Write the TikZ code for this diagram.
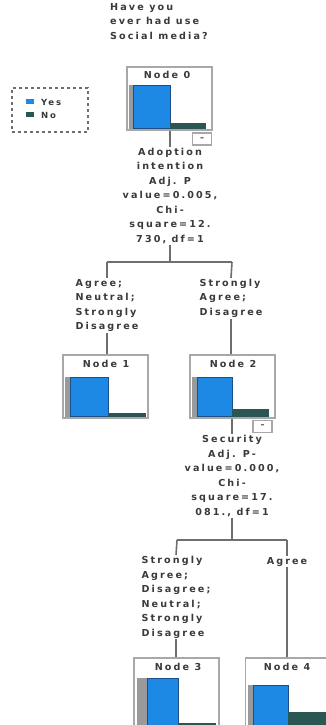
\documentclass[tikz,border=0pt]{standalone}
\usepackage{fontspec}
\setmainfont[LetterSpace=22]{DejaVu Sans}
\definecolor{boxgray}{HTML}{A8A8A8}
\definecolor{linegray}{HTML}{6E6E6E}
\definecolor{barblue}{HTML}{1E88E5}
\definecolor{barblueD}{HTML}{1A4F8A}
\definecolor{barteal}{HTML}{2A5654}
\definecolor{stripe}{HTML}{9A9A9A}
\definecolor{txt}{HTML}{3A3A3A}
\begin{document}
\begin{tikzpicture}[x=1pt,y=-1pt,
  every node/.style={inner sep=0pt, text=txt, font=\fontsize{9.6}{14.5}\selectfont\bfseries},
  nodebox/.style={draw=boxgray, line width=1.8pt, fill=white, minimum width=85pt, minimum height=63pt},
  tallbox/.style={nodebox, minimum height=70pt},
  conn/.style={draw=linegray, line width=1.6pt},
  lbl/.style={align=left, fill=white, inner sep=1pt},
  split/.style={align=center, fill=white, inner sep=1pt},
  minusbox/.style={draw=boxgray, line width=1.4pt, fill=white, minimum width=19pt, minimum height=12pt, font=\fontsize{8}{8}\selectfont\bfseries},
  bluebar/.style={fill=barblue, draw=barblueD, line width=0.8pt},
  tealbar/.style={fill=barteal},
  stripebar/.style={fill=stripe}
]
\useasboundingbox (0,0) rectangle (325,725);
\fill[white] (0,0) rectangle (325,725);

% title
\node[align=left, anchor=north west] (title) at (110,3) {Have you\\ever had use\\Social media?};

% legend
\node[draw=linegray, dashed, line width=1.4pt, minimum width=76pt, minimum height=44pt] (legend) at (50,110) {};
\fill[barblue] (26,99) rectangle (34,104);
\fill[barteal] (26,112) rectangle (34,117);
\node[anchor=west, font=\fontsize{8.5}{8}\selectfont\bfseries] (lyes) at (41,102) {Yes};
\node[anchor=west, font=\fontsize{8.5}{8}\selectfont\bfseries] (lno) at (41,115) {No};

% Node 0
\node[nodebox] (n0) at (169.5,98.5) {};
\node (n0t) at (167,75) {Node 0};
\fill[stripebar] (128.5,85) rectangle (133,129);
\fill[bluebar] (133,85) rectangle (170,128);
\fill[tealbar] (170,123) rectangle (206,128.5);
\node[minusbox] (m0) at (202,139) {--};

\node[split] (s0) at (170,196) {Adoption\\intention\\Adj. P\\value=0.005,\\Chi-\\square=12.\\730, df=1};
\draw[conn] (n0.south -| s0.north) -- (s0.north);

\coordinate (j0) at (170,262);
\coordinate (jl0) at (107,262);
\coordinate (jr0) at (232,262);
\draw[conn] (s0.south) -- (j0);
\draw[conn] (jl0) -- (jr0);

\node[lbl, anchor=north] (l1) at (107,278) {Agree;\\Neutral;\\Strongly\\Disagree};
\node[lbl, anchor=north] (l2) at (231,278) {Strongly\\Agree;\\Disagree};
\draw[conn] (jl0) -- (l1.north);
\draw[conn] (jr0) -- (l2.north);

% Node 1
\node[nodebox] (n1) at (105.5,386.5) {};
\node (n1t) at (106,364) {Node 1};
\fill[stripebar] (64.5,377) rectangle (70,417);
\fill[bluebar] (70,377) rectangle (108,416);
\fill[tealbar] (108,412.5) rectangle (146,416.5);
\draw[conn] (l1.south) -- (l1.south |- n1.north);

% Node 2
\node[nodebox] (n2) at (232.5,386.5) {};
\node (n2t) at (233,364) {Node 2};
\fill[stripebar] (191.5,377) rectangle (197,417);
\fill[bluebar] (197,377) rectangle (232,416);
\fill[tealbar] (232,409) rectangle (269,416.5);
\node[minusbox] (m2) at (262.5,426.5) {--};
\draw[conn] (l2.south) -- (l2.south |- n2.north);

\node[split] (s2) at (232,476) {Security\\Adj. P-\\value=0.000,\\Chi-\\square=17.\\081., df=1};
\draw[conn] (n2.south -| s2.north) -- (s2.north);

\coordinate (j2) at (232,540);
\coordinate (jl2) at (177,540);
\coordinate (jr2) at (287,540);
\draw[conn] (s2.south) -- (j2);
\draw[conn] (jl2) -- (jr2);

\node[lbl, anchor=north] (l3) at (176,555) {Strongly\\Agree;\\Disagree;\\Neutral;\\Strongly\\Disagree};
\node[lbl, anchor=north] (l4) at (287,556) {Agree};
\draw[conn] (jl2) -- (l3.north);
\draw[conn] (jr2) -- (l4.north);

% Node 3
\node[tallbox] (n3) at (176.5,693) {};
\node (n3t) at (178,667) {Node 3};
\fill[stripebar] (136.5,678) rectangle (147,726);
\fill[bluebar] (147,678) rectangle (178,726);
\fill[tealbar] (178,722.5) rectangle (216,726);
\draw[conn] (l3.south) -- (l3.south |- n3.north);

% Node 4
\node[tallbox] (n4) at (288,693) {};
\node (n4t) at (287,667) {Node 4};
\fill[stripebar] (247.5,685) rectangle (253,726);
\fill[bluebar] (253,685) rectangle (288,726);
\fill[tealbar] (288,712) rectangle (327,726);
\draw[conn] (l4.south) -- (l4.south |- n4.north);
\end{tikzpicture}
\end{document}
